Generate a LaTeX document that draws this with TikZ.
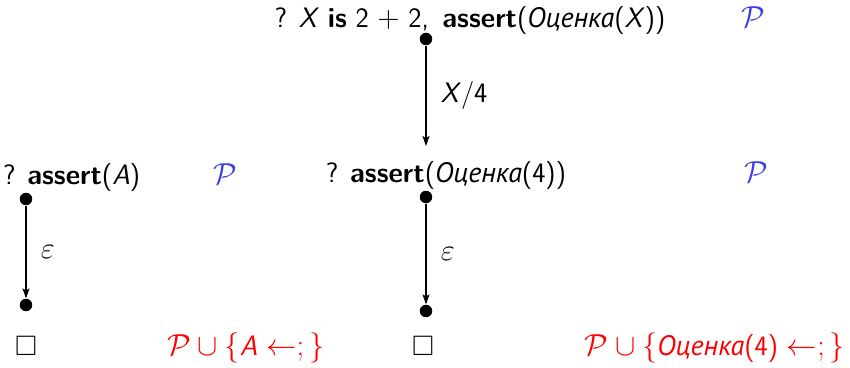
\documentclass[tikz,border=0pt]{standalone}
\usepackage{fontspec}
\usepackage{amssymb}
\usepackage{xcolor}
\usepackage{tikz}
\usetikzlibrary{positioning, arrows.meta, calc}
\renewcommand{\familydefault}{\sfdefault}
\newfontfamily\cyrfont{PT Sans}
\definecolor{progblue}{HTML}{3C3CE6}
\definecolor{progred}{HTML}{FF0000}
\newcommand{\ocenka}{{\cyrfont\itshape Оценка}}
\newcommand{\vX}{\textit{X}}

\begin{document}
\begin{tikzpicture}[
        x=0.02cm, y=-0.02cm,
        font=\fontsize{16}{19}\selectfont\sffamily,
        goal/.style={anchor=base, inner sep=1pt},
        prog/.style={anchor=base, inner sep=1pt, text=progblue},
        added/.style={anchor=base, inner sep=1pt, text=progred},
        dot/.style={circle, fill=black, inner sep=0pt, minimum size=0.25cm},
        arr/.style={-{Stealth[length=2mm, width=1.4mm, inset=0.4mm]},
                line width=0.6pt},
        lbl/.style={anchor=west, inner sep=1pt},
    ]
    \useasboundingbox (0,0) rectangle (850,368);

    % top goal
    \node[goal] (g0) at (470,28)
        {? \vX{} \textbf{is} 2 $+$ 2,\, \textbf{assert}(\ocenka(\vX))};
    \node[prog] (p0) at (753,28) {$\mathcal{P}$};
    \node[dot] (d0) at (426,39) {};
    \coordinate (e0) at (426,146);
    \draw[arr] (d0) -- (e0)
        node[lbl, midway, xshift=0.25cm] {\vX/4};

    % left branch
    \node[goal, anchor=base west] (g1) at (1,185) {? \textbf{assert}(\textit{A})};
    \node[prog] (p1) at (225,185) {$\mathcal{P}$};
    \node[dot] (d1) at (26,199) {};
    \node[dot] (d2) at (26,305) {};
    \draw[arr] (d1) -- (d2)
        node[lbl, midway, xshift=0.25cm] {$\varepsilon$};
    \node[goal] (s1) at (26,356) {$\square$};
    \node[added] (a1) at (246,356)
        {$\mathcal{P} \cup \{$\textit{A} $\leftarrow ; \}$};

    % middle branch
    \node[goal] (g2) at (446,183) {? \textbf{assert}(\ocenka(4))};
    \node[prog] (p2) at (756,183) {$\mathcal{P}$};
    \node[dot] (d3) at (426,197) {};
    \node[dot] (d4) at (426,311) {};
    \draw[arr] (d3) -- (d4)
        node[lbl, midway, xshift=0.25cm] {$\varepsilon$};
    \node[goal] (s2) at (423,356) {$\square$};
    \node[added] (a2) at (715,356)
        {$\mathcal{P} \cup \{$\ocenka(4) $\leftarrow ; \}$};
\end{tikzpicture}
\end{document}
